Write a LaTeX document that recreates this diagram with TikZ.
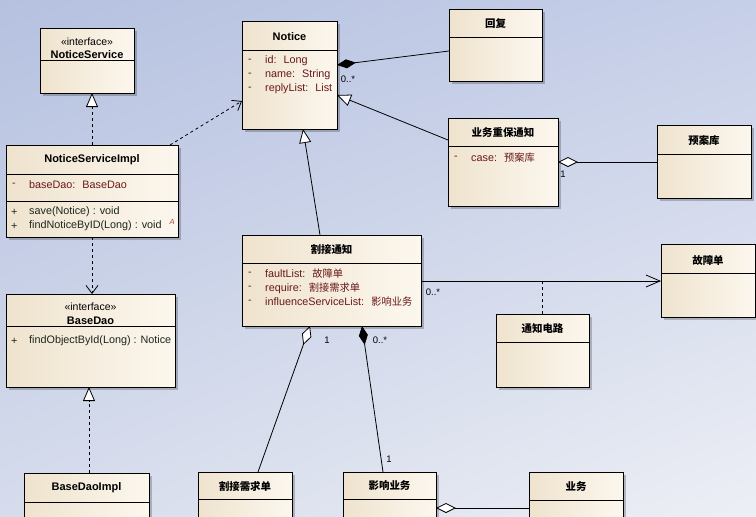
\documentclass[tikz,border=0pt]{standalone}
\usepackage{fontspec}
\setmainfont{Liberation Sans}
\newfontfamily\cjk{Noto Sans CJK SC}[Scale=0.95]
\usetikzlibrary{arrows.meta,calc,shadows,shadings}
\definecolor{bgUL}{HTML}{B5C1E0}
\definecolor{bgUR}{HTML}{C6CFE8}
\definecolor{bgLL}{HTML}{D6DCEC}
\definecolor{bgLR}{HTML}{EDEFF5}
\definecolor{boxL}{HTML}{EFE3CE}
\definecolor{boxR}{HTML}{FCF7EE}
\definecolor{attrc}{HTML}{6A1818}
\definecolor{opc}{HTML}{1C261C}
\definecolor{absc}{HTML}{C03838}
\newcommand\zhs[1]{{\cjk #1}}
\tikzset{
  cls/.style={draw=black, line width=0.8pt, left color=boxL, right color=boxR,
    anchor=north west, inner sep=0pt, outer sep=0pt,
    drop shadow={shadow xshift=3pt, shadow yshift=-3pt, fill=black, opacity=0.22}},
  sepline/.style={line width=0.8pt, draw=black},
  ttl/.style={font=\bfseries\fontsize{11}{12}\selectfont, inner sep=0pt},
  stereo/.style={font=\fontsize{10.5}{12}\selectfont, inner sep=0pt},
  attr/.style={font=\fontsize{10.8}{12}\selectfont, text=attrc, inner sep=0pt, anchor=west},
  oper/.style={font=\fontsize{10.8}{12}\selectfont, text=opc, inner sep=0pt, anchor=west},
  mult/.style={font=\fontsize{9.5}{11}\selectfont, inner sep=0pt},
  conn/.style={line width=0.8pt, draw=black},
  realize/.style={conn, dashed, -{Triangle[open, length=14pt, width=12pt, fill=white]}},
  depend/.style={conn, dashed, -{Straight Barb[length=8pt, width=12pt]}},
  general/.style={conn, -{Triangle[open, length=14pt, width=12pt, fill=white]}},
  navig/.style={conn, -{Straight Barb[length=14pt, width=12pt]}},
  compo/.style={conn, {Diamond[fill=black, length=19pt, width=9pt]}-},
  aggr/.style={conn, {Diamond[open, fill=white, length=20pt, width=10pt]}-},
}
\begin{document}
\begin{tikzpicture}[x=1pt,y=-1pt]
\useasboundingbox (0,0) rectangle (756,517);
\clip (0,0) rectangle (756,517);
\shade[upper left=bgUL, upper right=bgUR, lower left=bgLL, lower right=bgLR] (0,0) rectangle (756,517);

% ---------------- boxes ----------------
% NoticeService
\node[cls, minimum width=94pt, minimum height=65pt] (ns) at (40,28) {};
\draw[sepline] ($(ns.north west)+(0,32)$) -- ($(ns.north east)+(0,32)$);
\node[stereo] (ns-st) at ($(ns.north)+(0,14)$) {«interface»};
\node[ttl] (ns-t) at ($(ns.north)+(0,27)$) {NoticeService};

% NoticeServiceImpl
\node[cls, minimum width=172pt, minimum height=92pt] (nsi) at (6,145) {};
\draw[sepline] ($(nsi.north west)+(0,29)$) -- ($(nsi.north east)+(0,29)$);
\draw[sepline] ($(nsi.north west)+(0,56)$) -- ($(nsi.north east)+(0,56)$);
\node[ttl] (nsi-t) at ($(nsi.north)+(0,15)$) {NoticeServiceImpl};
\node[attr] (nsi-a1m) at ($(nsi.north west)+(6,40)$) {-};
\node[attr] (nsi-a1) at ($(nsi.north west)+(23,40)$) {baseDao:~ BaseDao};
\node[oper] (nsi-o1m) at ($(nsi.north west)+(5,67)$) {+};
\node[oper] (nsi-o1) at ($(nsi.north west)+(23,67)$) {save(Notice) : void};
\node[oper] (nsi-o2m) at ($(nsi.north west)+(5,81)$) {+};
\node[oper] (nsi-o2) at ($(nsi.north west)+(23,81)$) {findNoticeByID(Long) : void};
\node[font=\itshape\fontsize{7.5}{8}\selectfont, text=absc, inner sep=0pt] (nsi-abs) at ($(nsi.north west)+(166,77)$) {A};

% BaseDao
\node[cls, minimum width=169pt, minimum height=93pt] (bd) at (6,294) {};
\draw[sepline] ($(bd.north west)+(0,32)$) -- ($(bd.north east)+(0,32)$);
\node[stereo] (bd-st) at ($(bd.north)+(0,13)$) {«interface»};
\node[ttl] (bd-t) at ($(bd.north)+(0,27)$) {BaseDao};
\node[oper] (bd-o1m) at ($(bd.north west)+(5,47)$) {+};
\node[oper] (bd-o1) at ($(bd.north west)+(23,47)$) {findObjectById(Long) : Notice};

% BaseDaoImpl
\node[cls, minimum width=125pt, minimum height=60pt] (bdi) at (24,473) {};
\draw[sepline] ($(bdi.north west)+(0,29)$) -- ($(bdi.north east)+(0,29)$);
\node[ttl] (bdi-t) at ($(bdi.north)+(0,15)$) {BaseDaoImpl};

% Notice
\node[cls, minimum width=95pt, minimum height=108pt] (nt) at (242,21) {};
\draw[sepline] ($(nt.north west)+(0,29)$) -- ($(nt.north east)+(0,29)$);
\node[ttl] (nt-t) at ($(nt.north)+(0,16)$) {Notice};
\node[attr] (nt-a1m) at ($(nt.north west)+(6,40)$) {-};
\node[attr] (nt-a1) at ($(nt.north west)+(23,40)$) {id:~ Long};
\node[attr] (nt-a2m) at ($(nt.north west)+(6,54)$) {-};
\node[attr] (nt-a2) at ($(nt.north west)+(23,54)$) {name:~ String};
\node[attr] (nt-a3m) at ($(nt.north west)+(6,68)$) {-};
\node[attr] (nt-a3) at ($(nt.north west)+(23,68)$) {replyList:~ List};

% 回复
\node[cls, minimum width=93pt, minimum height=72pt] (hf) at (449,9) {};
\draw[sepline] ($(hf.north west)+(0,28)$) -- ($(hf.north east)+(0,28)$);
\node[ttl] (hf-t) at ($(hf.north)+(0,15)$) {\zhs{回复}};

% 业务重保通知
\node[cls, minimum width=110pt, minimum height=88pt] (yb) at (448,118) {};
\draw[sepline] ($(yb.north west)+(0,28)$) -- ($(yb.north east)+(0,28)$);
\node[ttl] (yb-t) at ($(yb.north)+(0,15)$) {\zhs{业务重保通知}};
\node[attr] (yb-a1m) at ($(yb.north west)+(6,40)$) {-};
\node[attr] (yb-a1) at ($(yb.north west)+(23,40)$) {case:~ \zhs{预案库}};

% 预案库
\node[cls, minimum width=94pt, minimum height=73pt] (ya) at (657,125) {};
\draw[sepline] ($(ya.north west)+(0,29)$) -- ($(ya.north east)+(0,29)$);
\node[ttl] (ya-t) at ($(ya.north)+(0,16)$) {\zhs{预案库}};

% 割接通知
\node[cls, minimum width=179pt, minimum height=91pt] (gj) at (242,235) {};
\draw[sepline] ($(gj.north west)+(0,28)$) -- ($(gj.north east)+(0,28)$);
\node[ttl] (gj-t) at ($(gj.north)+(0,15)$) {\zhs{割接通知}};
\node[attr] (gj-a1m) at ($(gj.north west)+(6,39)$) {-};
\node[attr] (gj-a1) at ($(gj.north west)+(23,39)$) {faultList:~ \zhs{故障单}};
\node[attr] (gj-a2m) at ($(gj.north west)+(6,53)$) {-};
\node[attr] (gj-a2) at ($(gj.north west)+(23,53)$) {require:~ \zhs{割接需求单}};
\node[attr] (gj-a3m) at ($(gj.north west)+(6,67)$) {-};
\node[attr] (gj-a3) at ($(gj.north west)+(23,67)$) {influenceServiceList:~ \zhs{影响业务}};

% 故障单
\node[cls, minimum width=94pt, minimum height=73pt] (gz) at (661,244) {};
\draw[sepline] ($(gz.north west)+(0,29)$) -- ($(gz.north east)+(0,29)$);
\node[ttl] (gz-t) at ($(gz.north)+(0,16)$) {\zhs{故障单}};

% 通知电路
\node[cls, minimum width=93pt, minimum height=73pt] (tz) at (496,314) {};
\draw[sepline] ($(tz.north west)+(0,28)$) -- ($(tz.north east)+(0,28)$);
\node[ttl] (tz-t) at ($(tz.north)+(0,15)$) {\zhs{通知电路}};

% 割接需求单
\node[cls, minimum width=94pt, minimum height=60pt] (gx) at (198,472) {};
\draw[sepline] ($(gx.north west)+(0,27)$) -- ($(gx.north east)+(0,27)$);
\node[ttl] (gx-t) at ($(gx.north)+(0,14)$) {\zhs{割接需求单}};

% 影响业务
\node[cls, minimum width=93pt, minimum height=60pt] (yx) at (343,472) {};
\draw[sepline] ($(yx.north west)+(0,27)$) -- ($(yx.north east)+(0,27)$);
\node[ttl] (yx-t) at ($(yx.north)+(0,14)$) {\zhs{影响业务}};

% 业务
\node[cls, minimum width=94pt, minimum height=60pt] (yw) at (529,472) {};
\draw[sepline] ($(yw.north west)+(0,28)$) -- ($(yw.north east)+(0,28)$);
\node[ttl] (yw-t) at ($(yw.north)+(0,15)$) {\zhs{业务}};

% ---------------- connectors ----------------
\draw[realize] (nsi.north) -- (nsi.north |- ns.south);
\draw[depend] ($(nsi.north east)+(-8,0)$) -- ($(nt.north west)+(0,80)$);
\draw[depend] (nsi.south) -- (nsi.south |- bd.north);
\coordinate (bdi-top) at ($(bdi.north west)+(65,0)$);
\draw[realize] (bdi-top) -- (bdi-top |- bd.south);

\draw[compo] ($(nt.north east)+(0,44)$) -- ($(hf.north west)+(0,42)$);
\node[mult] (m1) at ($(nt.north east)+(11,58)$) {0..*};

\draw[general] ($(yb.north west)+(0,22)$) -- ($(nt.north east)+(0,74)$);

\draw[aggr] ($(yb.north east)+(0,44)$) -- ($(ya.north west)+(0,37)$);
\node[mult] (m2) at ($(yb.north east)+(5,56)$) {1};

\draw[general] ($(gj.north west)+(78,0)$) -- ($(nt.south west)+(61,0)$);

\coordinate (gz-a) at ($(gj.north east)+(0,46)$);
\draw[navig] (gz-a) -- (gz-a -| gz.west);
\node[mult] (m3) at ($(gj.north east)+(12,57)$) {0..*};
\draw[conn, dashed] (tz.north) -- (tz.north |- gz-a);

\draw[aggr] ($(gj.south west)+(68,0)$) -- ($(gx.north west)+(60,0)$);
\node[mult] (m4) at ($(gj.south west)+(85,14)$) {1};

\draw[compo] ($(gj.south west)+(120,0)$) -- ($(yx.north west)+(40,0)$);
\node[mult] (m5) at ($(gj.south west)+(138,14)$) {0..*};
\node[mult] (m6) at ($(yx.north west)+(46,-13)$) {1};

\draw[aggr] ($(yx.north east)+(0,36)$) -- ($(yw.north west)+(0,36)$);
\end{tikzpicture}
\end{document}
